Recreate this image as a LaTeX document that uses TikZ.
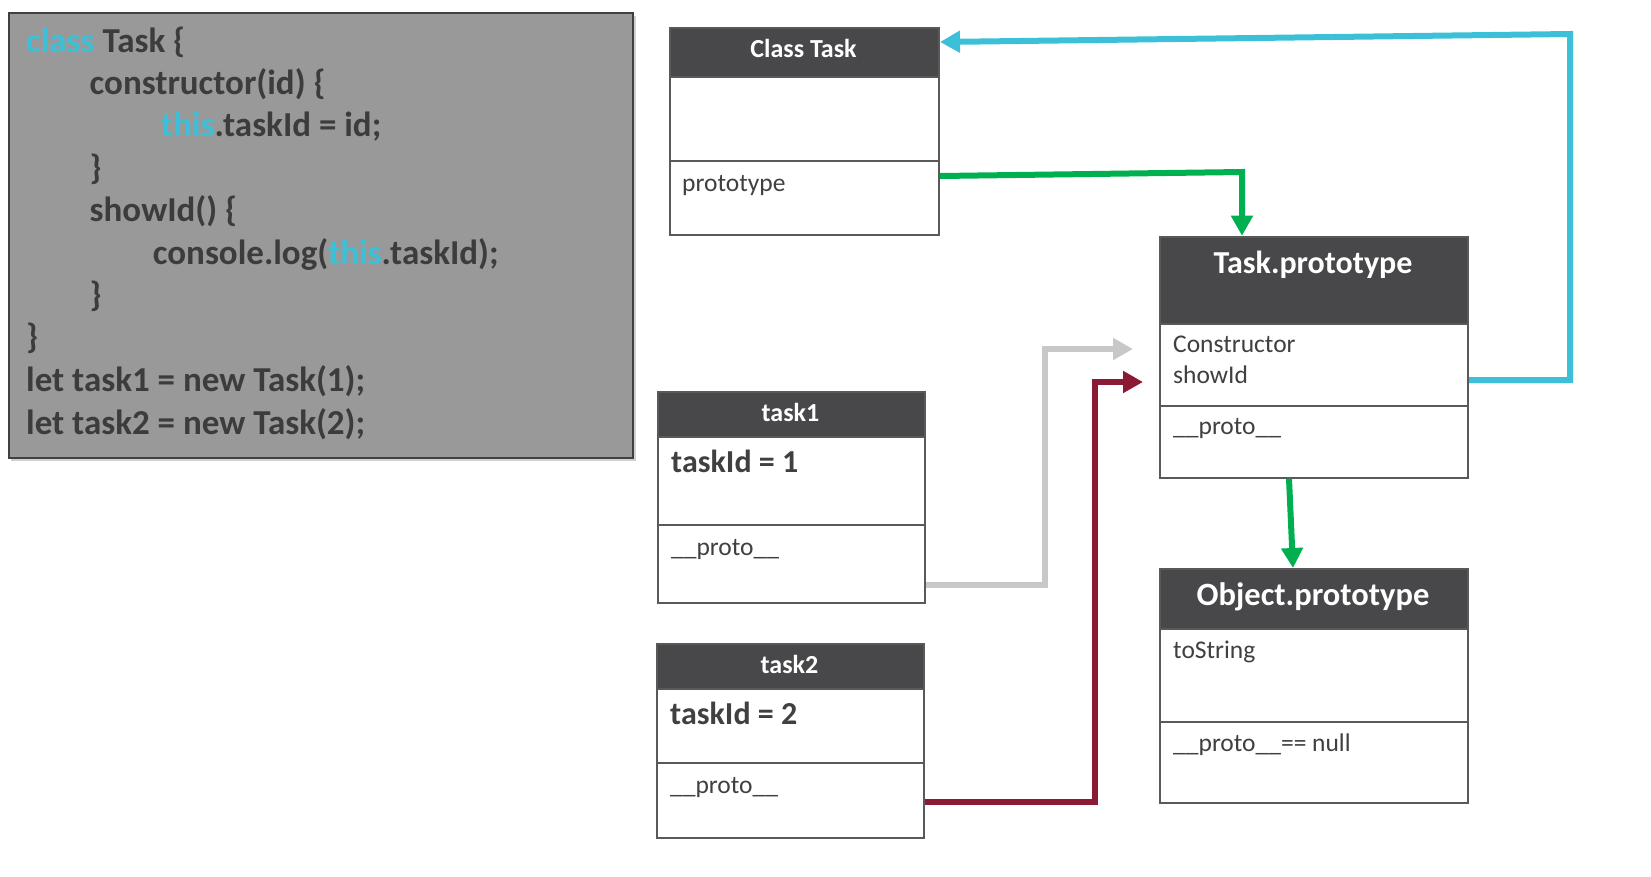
\documentclass[tikz,border=0pt]{standalone}
\usepackage{fontspec}
\setmainfont{Carlito}
\usetikzlibrary{arrows.meta}
\definecolor{hdrgray}{RGB}{72,72,74}
\definecolor{boxline}{RGB}{89,89,89}
\definecolor{codebg}{RGB}{153,153,153}
\definecolor{codeline}{RGB}{64,64,64}
\definecolor{codetext}{RGB}{60,60,60}
\definecolor{kwcyan}{RGB}{60,192,216}
\definecolor{bodytext}{RGB}{64,64,64}
\definecolor{arrcyan}{RGB}{60,192,216}
\definecolor{arrgreen}{RGB}{0,176,80}
\definecolor{arrgray}{RGB}{200,200,200}
\definecolor{arrred}{RGB}{139,26,52}
\newcommand{\kw}[1]{\textcolor{kwcyan}{#1}}
\newcommand{\myfs}[1]{\fontsize{#1}{#1}\selectfont}
\begin{document}
\begin{tikzpicture}[x=1pt,y=-1pt,
  sect/.style={draw=boxline,line width=2pt,fill=white,inner sep=0pt,anchor=north west},
  hdr/.style={sect,fill=hdrgray},
  code/.style={anchor=base west,inner sep=0pt,text=codetext,font=\myfs{35}\bfseries},
  hdrtxt/.style={anchor=base,inner sep=0pt,text=white,font=\myfs{#1}\bfseries},
  bodytxt/.style={anchor=base west,inner sep=0pt,text=bodytext,font=\myfs{25.5}},
  valtxt/.style={anchor=base west,inner sep=0pt,text=bodytext,font=\myfs{32}\bfseries},
  conn/.style={line width=6pt,-{Triangle[length=20pt,width=21pt]}}
]
\useasboundingbox (0,0) rectangle (1651,876);

% code panel
\fill[black,opacity=0.18] (11,16) rectangle (636,461);
\node[draw=codeline,fill=codebg,line width=2pt,minimum width=624pt,minimum height=445pt,anchor=north west,inner sep=0pt] (code) at (8,12) {};
\node[code] (c1) at (26,52.5) {\kw{class} Task \{};
\node[code] (c2) at (89.5,94.5) {constructor(id) \{};
\node[code] (c3) at (161,136.5) {\kw{this}.taskId = id;};
\node[code] (c4) at (89.5,179) {\}};
\node[code] (c5) at (89.5,221) {showId() \{};
\node[code] (c6) at (152.7,264) {console.log(\kw{this}.taskId);};
\node[code] (c7) at (89.5,306) {\}};
\node[code] (c8) at (26,348.5) {\}};
\node[code] (c9) at (26,391.5) {let task1 = new Task(1);};
\node[code] (c10) at (26,434) {let task2 = new Task(2);};

% Class Task
\node[sect,minimum width=269pt,minimum height=84pt] (ctM) at (669,76) {};
\node[sect,minimum width=269pt,minimum height=74pt] (ctL) at (669,160) {};
\node[hdr,minimum width=269pt,minimum height=49.3pt] (ctH) at (669,26.7) {};
\node[hdrtxt=26] (ctHt) at (803.5,57.3) {Class Task};
\node[bodytxt] (ctp) at (682,191.7) {prototype};

% Task.prototype
\node[sect,minimum width=308pt,minimum height=82pt] (tpM) at (1159,323) {};
\node[sect,minimum width=308pt,minimum height=71.7pt] (tpL) at (1159,405) {};
\node[hdr,minimum width=308pt,minimum height=87.3pt] (tpH) at (1159,235.7) {};
\node[hdrtxt=32] (tpHt) at (1313,273) {Task.prototype};
\node[bodytxt] (tpc) at (1173,352.7) {Constructor};
\node[bodytxt] (tps) at (1173,383.3) {showId};
\node[bodytxt] (tpp) at (1173,434) {\_\_proto\_\_};

% task1
\node[sect,minimum width=267pt,minimum height=88.3pt] (t1M) at (657,436) {};
\node[sect,minimum width=267pt,minimum height=77.4pt] (t1L) at (657,524.3) {};
\node[hdr,minimum width=267pt,minimum height=45pt] (t1H) at (657,391) {};
\node[hdrtxt=26] (t1Ht) at (790.5,421.7) {task1};
\node[valtxt] (t1v) at (671,472) {taskId = 1};
\node[bodytxt] (t1p) at (671,555) {\_\_proto\_\_};

% task2
\node[sect,minimum width=267pt,minimum height=73.7pt] (t2M) at (656,688) {};
\node[sect,minimum width=267pt,minimum height=75pt] (t2L) at (656,761.7) {};
\node[hdr,minimum width=267pt,minimum height=45pt] (t2H) at (656,643) {};
\node[hdrtxt=26] (t2Ht) at (789.5,673) {task2};
\node[valtxt] (t2v) at (670,724) {taskId = 2};
\node[bodytxt] (t2p) at (670,793) {\_\_proto\_\_};

% Object.prototype
\node[sect,minimum width=308pt,minimum height=92.7pt] (opM) at (1159,628) {};
\node[sect,minimum width=308pt,minimum height=81pt] (opL) at (1159,720.7) {};
\node[hdr,minimum width=308pt,minimum height=60pt] (opH) at (1159,568) {};
\node[hdrtxt=32.5] (opHt) at (1313,605) {Object.prototype};
\node[bodytxt] (opt) at (1173,658) {toString};
\node[bodytxt] (opp) at (1173,751) {\_\_proto\_\_== null};

% connectors
\coordinate (cyR) at (1570,380);
\coordinate (cyT) at (1570,34);
\coordinate (cyE) at (938,42);
\draw[conn,arrcyan] (tpM.east |- cyR) -- (cyR) -- (cyT) -- (ctH.east |- cyE);

\coordinate (g1a) at (0,176);
\coordinate (g1b) at (1242,172);
\draw[conn,arrgreen] (ctL.east |- g1a) -- (g1b) -- (tpH.north -| g1b);

\coordinate (g2a) at (1289,0);
\coordinate (g2b) at (1293,0);
\draw[conn,arrgreen] (tpL.south -| g2a) -- (opH.north -| g2b);

\coordinate (gr1) at (1045,585);
\coordinate (gr2) at (1045,349);
\coordinate (gr3) at (1133,349);
\draw[conn,arrgray] (t1L.east |- gr1) -- (gr1) -- (gr2) -- (gr3);

\coordinate (rd1) at (1095,801.7);
\coordinate (rd2) at (1095,382);
\coordinate (rd3) at (1143,382);
\draw[conn,arrred] (t2L.east |- rd1) -- (rd1) -- (rd2) -- (rd3);
\end{tikzpicture}
\end{document}
